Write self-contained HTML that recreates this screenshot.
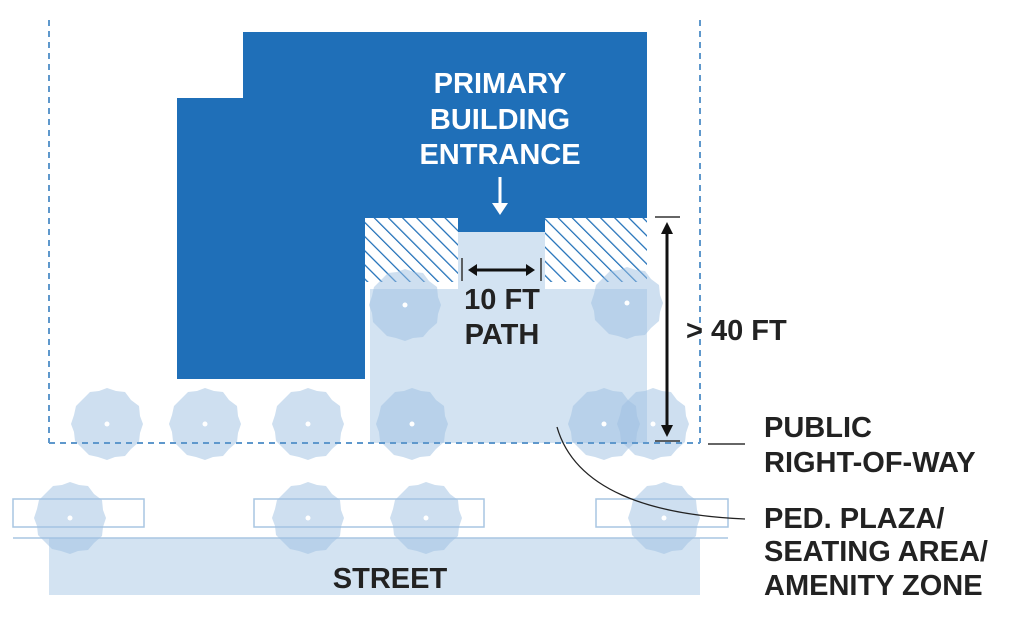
<!DOCTYPE html>
<html><head><meta charset="utf-8"><style>
html,body{margin:0;padding:0;background:#fff;}
svg{display:block;}
text{font-family:"Liberation Sans",Arial,sans-serif;font-weight:bold;}
</style></head><body>
<svg width="1018" height="622" viewBox="0 0 1018 622" xmlns="http://www.w3.org/2000/svg">
<defs>
<pattern id="h" patternUnits="userSpaceOnUse" width="10" height="10" patternTransform="rotate(-45)">
<rect width="10" height="10" fill="#fff"/>
<line x1="0" y1="0" x2="0" y2="10" stroke="#1f6fb8" stroke-width="2.5"/>
</pattern>
<g id="t"><path d="M0,-36 L9,-33 L18,-32 L24,-24 L32,-18 L33,-8 L36,0 L33,9 L32,18 L24,25 L18,32 L8,33 L0,36 L-9,33 L-18,31 L-25,24 L-32,17 L-33,8 L-36,0 L-33,-9 L-31,-18 L-24,-25 L-17,-32 L-8,-33 Z" fill="#9dbfe2" fill-opacity="0.5"/><circle r="2.5" fill="#fff"/></g>
</defs>
<!-- street -->
<rect x="49" y="538" width="651" height="57" fill="#d3e3f2"/>
<line x1="13" y1="538" x2="728" y2="538" stroke="#a9c6e2" stroke-width="1.5"/>
<rect x="13" y="499" width="131" height="28" fill="none" stroke="#a9c6e2" stroke-width="1.5"/>
<rect x="254" y="499" width="230" height="28" fill="none" stroke="#a9c6e2" stroke-width="1.5"/>
<rect x="596" y="499" width="132" height="28" fill="none" stroke="#a9c6e2" stroke-width="1.5"/>
<text x="390" y="588" font-size="29" text-anchor="middle" fill="#222">STREET</text>
<!-- building -->
<path d="M243,32 L647,32 L647,218 L546,218 L546,232 L452,232 L452,218 L365,218 L365,379 L177,379 L177,98 L243,98 Z" fill="#1f6fb8"/>
<rect x="365" y="218" width="93" height="64" fill="url(#h)"/>
<rect x="545" y="218" width="102" height="64" fill="url(#h)"/>
<rect x="458" y="232" width="87" height="211" fill="#d3e3f2"/>
<rect x="370" y="289" width="277" height="154" fill="#d3e3f2"/>
<text fill="#fff" font-size="29" text-anchor="middle"><tspan x="500" y="93">PRIMARY</tspan><tspan x="500" y="129">BUILDING</tspan><tspan x="500" y="164">ENTRANCE</tspan></text>
<line x1="500" y1="177" x2="500" y2="210" stroke="#fff" stroke-width="3"/>
<path d="M492,203 L500,215 L508,203 Z" fill="#fff"/>
<!-- trees -->
<use href="#t" x="405" y="305"/><use href="#t" x="627" y="303"/>
<use href="#t" x="107" y="424"/><use href="#t" x="205" y="424"/><use href="#t" x="308" y="424"/><use href="#t" x="412" y="424"/><use href="#t" x="604" y="424"/><use href="#t" x="653" y="424"/>
<use href="#t" x="70" y="518"/><use href="#t" x="308" y="518"/><use href="#t" x="426" y="518"/><use href="#t" x="664" y="518"/>
<!-- lot lines -->
<g stroke="#5f98cc" stroke-width="2" stroke-dasharray="6,5" fill="none">
<line x1="49" y1="20" x2="49" y2="443"/><line x1="700" y1="20" x2="700" y2="443"/><line x1="49" y1="443" x2="700" y2="443"/>
</g>
<!-- dimension path -->
<line x1="462" y1="258" x2="462" y2="281" stroke="#333" stroke-width="1.5"/>
<line x1="541" y1="258" x2="541" y2="281" stroke="#333" stroke-width="1.5"/>
<line x1="472" y1="270" x2="531" y2="270" stroke="#111" stroke-width="3"/>
<path d="M468,270 L477,264 L477,276 Z M535,270 L526,264 L526,276 Z" fill="#111"/>
<text fill="#222" font-size="29" text-anchor="middle"><tspan x="502" y="309">10 FT</tspan><tspan x="502" y="344">PATH</tspan></text>
<!-- vertical dim -->
<line x1="655" y1="217" x2="680" y2="217" stroke="#333" stroke-width="1.5"/>
<line x1="655" y1="441" x2="680" y2="441" stroke="#333" stroke-width="1.5"/>
<line x1="667" y1="230" x2="667" y2="428" stroke="#111" stroke-width="3"/>
<path d="M667,222 L661,234 L673,234 Z M667,437 L661,425 L673,425 Z" fill="#111"/>
<text x="686" y="340" font-size="29" fill="#222">&gt; 40 FT</text>
<!-- leaders -->
<line x1="708" y1="444" x2="745" y2="444" stroke="#333" stroke-width="1.5"/>
<path d="M557,427 C575,490 650,515 745,519" fill="none" stroke="#222" stroke-width="1.3"/>
<text fill="#222" font-size="29"><tspan x="764" y="437">PUBLIC</tspan><tspan x="764" y="472">RIGHT-OF-WAY</tspan><tspan x="764" y="528">PED. PLAZA/</tspan><tspan x="764" y="561">SEATING AREA/</tspan><tspan x="764" y="595">AMENITY ZONE</tspan></text>
</svg>
</body></html>
